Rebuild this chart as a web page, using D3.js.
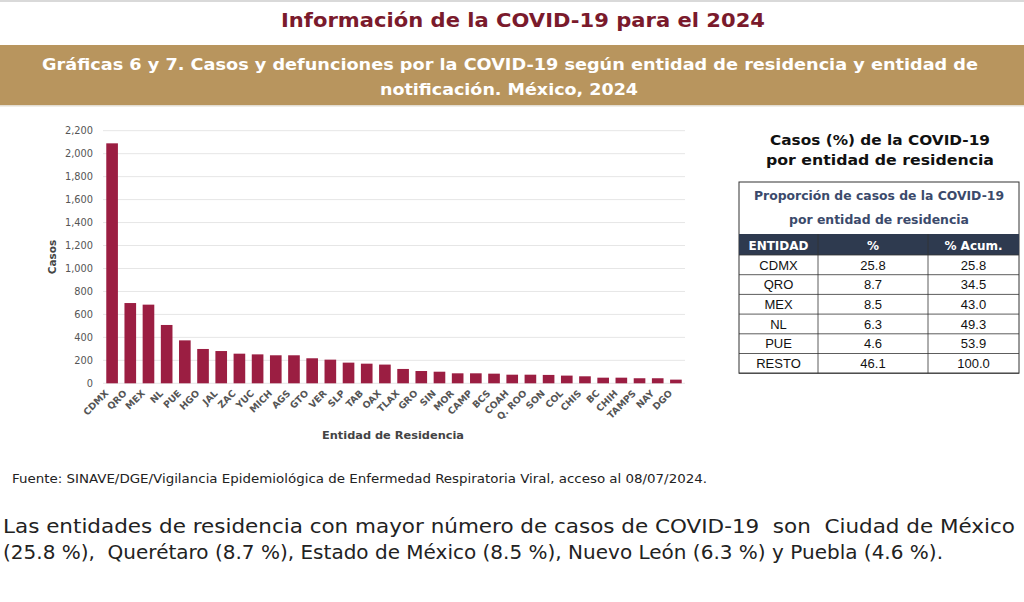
<!DOCTYPE html>
<html><head><meta charset="utf-8">
<script src="https://cdn.jsdelivr.net/npm/d3@7"></script>
<style>
html,body{margin:0;padding:0;background:#fff;}
svg{display:block;}
</style></head>
<body>
<svg id="c" width="1024" height="602"></svg>
<script>
const states = ["CDMX","QRO","MEX","NL","PUE","HGO","JAL","ZAC","YUC","MICH","AGS","GTO","VER","SLP","TAB","OAX","TLAX","GRO","SIN","MOR","CAMP","BCS","COAH","Q. ROO","SON","COL","CHIS","BC","CHIH","TAMPS","NAY","DGO"];
const cases = [2090,699,685,508,374,299,281,258,252,244,244,218,206,180,171,163,125,107,101,87,87,84,75,75,73,67,61,49,49,44,44,32];
const yTicks = [0,200,400,600,800,1000,1200,1400,1600,1800,2000,2200];
const tableEntities = ["CDMX","QRO","MEX","NL","PUE","RESTO"];
const tablePct = ["25.8","8.7","8.5","6.3","4.6","46.1"];
const tableAcum = ["25.8","34.5","43.0","49.3","53.9","100.0"];
const tableHeader = ["ENTIDAD","%","% Acum."];

const svg = d3.select("#c");
const F = "'DejaVu Sans', 'Open Sans', sans-serif";

// top strip
svg.append("rect").attr("x",0).attr("y",0).attr("width",1024).attr("height",2).attr("fill","#d9d9d9");
svg.append("text").attr("x",523).attr("y",27).attr("text-anchor","middle")
  .attr("font-family",F).attr("font-weight","bold").attr("font-size",19)
  .attr("fill","#7a1a2c").attr("textLength",484).attr("lengthAdjust","spacingAndGlyphs")
  .text("Información de la COVID-19 para el 2024");

// banner
svg.append("rect").attr("x",0).attr("y",45).attr("width",1024).attr("height",60).attr("fill","#b8955e");
svg.append("rect").attr("x",0).attr("y",105).attr("width",1024).attr("height",1.5).attr("fill","#e3ddd2");
svg.append("text").attr("x",510).attr("y",70).attr("text-anchor","middle")
  .attr("font-family",F).attr("font-weight","bold").attr("font-size",16.5).attr("fill","#fff")
  .attr("textLength",936).attr("lengthAdjust","spacingAndGlyphs")
  .text("Gráficas 6 y 7. Casos y defunciones por la COVID-19  según entidad de residencia y entidad de");
svg.append("text").attr("x",509).attr("y",95).attr("text-anchor","middle")
  .attr("font-family",F).attr("font-weight","bold").attr("font-size",16.5).attr("fill","#fff")
  .attr("textLength",258).attr("lengthAdjust","spacingAndGlyphs")
  .text("notificación. México, 2024");

// chart
const x = d3.scaleBand().domain(states).range([103,685]).paddingInner(0.36).paddingOuter(0.18);
const y = d3.scaleLinear().domain([0,2200]).range([383.3,130.7]);
const g = svg.append("g");
g.selectAll("line.grid").data(yTicks).join("line").attr("class","grid")
  .attr("x1",103).attr("x2",685).attr("y1",d=>y(d)).attr("y2",d=>y(d))
  .attr("stroke","#e6e6e6").attr("stroke-width",1);
const yAxis = g.append("g").attr("transform","translate(103,0)")
  .call(d3.axisLeft(y).tickValues(yTicks).tickFormat(d3.format(",")).tickSize(0).tickPadding(10));
yAxis.select(".domain").remove();
yAxis.selectAll("text").attr("font-family",F).attr("font-size",9.8).attr("fill","#555");
g.selectAll("rect.bar").data(cases).join("rect").attr("class","bar")
  .attr("x",(d,i)=>x(states[i])).attr("width",x.bandwidth())
  .attr("y",d=>y(d)).attr("height",d=>y(0)-y(d)).attr("fill","#9b1e42");
const xAxis = g.append("g").attr("transform","translate(0,384)")
  .call(d3.axisBottom(x).tickSize(0).tickPadding(0));
xAxis.select(".domain").remove();
xAxis.selectAll("text").attr("font-family",F).attr("font-size",9.3).attr("fill","#555").attr("font-weight","bold")
  .attr("text-anchor","end").attr("x",0).attr("y",0).attr("dy",0).attr("transform","translate(-3,10) rotate(-45)");
svg.append("text").attr("transform","translate(56,257) rotate(-90)").attr("text-anchor","middle")
  .attr("font-family",F).attr("font-weight","bold").attr("font-size",10.5).attr("fill","#444").text("Casos");
svg.append("text").attr("x",393).attr("y",439).attr("text-anchor","middle")
  .attr("font-family",F).attr("font-weight","bold").attr("font-size",10).attr("fill","#444")
  .attr("textLength",142).attr("lengthAdjust","spacingAndGlyphs").text("Entidad de Residencia");

// right title
svg.append("text").attr("x",880).attr("y",145).attr("text-anchor","middle")
  .attr("font-family",F).attr("font-weight","bold").attr("font-size",14.5).attr("fill","#111")
  .attr("textLength",220).attr("lengthAdjust","spacingAndGlyphs").text("Casos (%) de la COVID-19");
svg.append("text").attr("x",880).attr("y",165).attr("text-anchor","middle")
  .attr("font-family",F).attr("font-weight","bold").attr("font-size",14.5).attr("fill","#111")
  .attr("textLength",228).attr("lengthAdjust","spacingAndGlyphs").text("por entidad de residencia");

// table
const tL = 739, tR = 1019, tTop = 182, hTop = 234, hBot = 255, rowH = 19.7;
const cols = [tL, 818, 928, tR];
svg.append("rect").attr("x",tL).attr("y",tTop).attr("width",tR-tL).attr("height",hBot+rowH*6-tTop)
  .attr("fill","#fff").attr("stroke","#333").attr("stroke-width",1);
svg.append("text").attr("x",(tL+tR)/2).attr("y",200).attr("text-anchor","middle")
  .attr("font-family",F).attr("font-weight","bold").attr("font-size",12.5).attr("fill","#3b4a6b")
  .attr("textLength",250).attr("lengthAdjust","spacingAndGlyphs").text("Proporción de casos de la COVID-19");
svg.append("text").attr("x",(tL+tR)/2).attr("y",224).attr("text-anchor","middle")
  .attr("font-family",F).attr("font-weight","bold").attr("font-size",12.5).attr("fill","#3b4a6b")
  .attr("textLength",180).attr("lengthAdjust","spacingAndGlyphs").text("por entidad de residencia");
svg.append("rect").attr("x",tL).attr("y",hTop).attr("width",tR-tL).attr("height",hBot-hTop).attr("fill","#2e3a4f");
const cx = [(cols[0]+cols[1])/2, (cols[1]+cols[2])/2, (cols[2]+cols[3])/2];
svg.selectAll("text.th").data(tableHeader).join("text").attr("class","th")
  .attr("x",(d,i)=>cx[i]).attr("y",250).attr("text-anchor","middle")
  .attr("font-family",F).attr("font-weight","bold").attr("font-size",12).attr("fill","#fff").text(d=>d);
for (let r=0;r<=6;r++){
  svg.append("line").attr("x1",tL).attr("x2",tR).attr("y1",hBot+r*rowH).attr("y2",hBot+r*rowH).attr("stroke","#333").attr("stroke-width",0.8);
}
[cols[1],cols[2]].forEach(c=>{
  svg.append("line").attr("x1",c).attr("x2",c).attr("y1",hTop).attr("y2",hBot+6*rowH).attr("stroke","#333").attr("stroke-width",0.8);
});
const rows = tableEntities.map((e,i)=>[e,tablePct[i],tableAcum[i]]);
rows.forEach((r,ri)=>{
  r.forEach((v,ci)=>{
    svg.append("text").attr("x",cx[ci]).attr("y",hBot+ri*rowH+14.5).attr("text-anchor","middle")
      .attr("font-family","'Liberation Sans Narrow','Liberation Sans',sans-serif").attr("font-size",13).attr("fill","#111").text(v);
  });
});

// footnote
svg.append("text").attr("x",12).attr("y",483).attr("font-family",F).attr("font-size",11.5).attr("fill","#222")
  .attr("textLength",695).attr("lengthAdjust","spacingAndGlyphs")
  .text("Fuente: SINAVE/DGE/Vigilancia Epidemiológica de Enfermedad Respiratoria Viral, acceso al 08/07/2024.");
svg.append("text").attr("x",3).attr("y",533).attr("font-family",F).attr("font-size",19).attr("fill","#222")
  .attr("textLength",1012).attr("lengthAdjust","spacingAndGlyphs").attr("xml:space","preserve")
  .text("Las entidades de residencia con mayor número de casos de COVID-19  son  Ciudad de México");
svg.append("text").attr("x",3).attr("y",559).attr("font-family",F).attr("font-size",19).attr("fill","#222")
  .attr("textLength",940).attr("lengthAdjust","spacingAndGlyphs").attr("xml:space","preserve")
  .text("(25.8 %),  Querétaro (8.7 %), Estado de México (8.5 %), Nuevo León (6.3 %) y Puebla (4.6 %).");
</script>
</body></html>
